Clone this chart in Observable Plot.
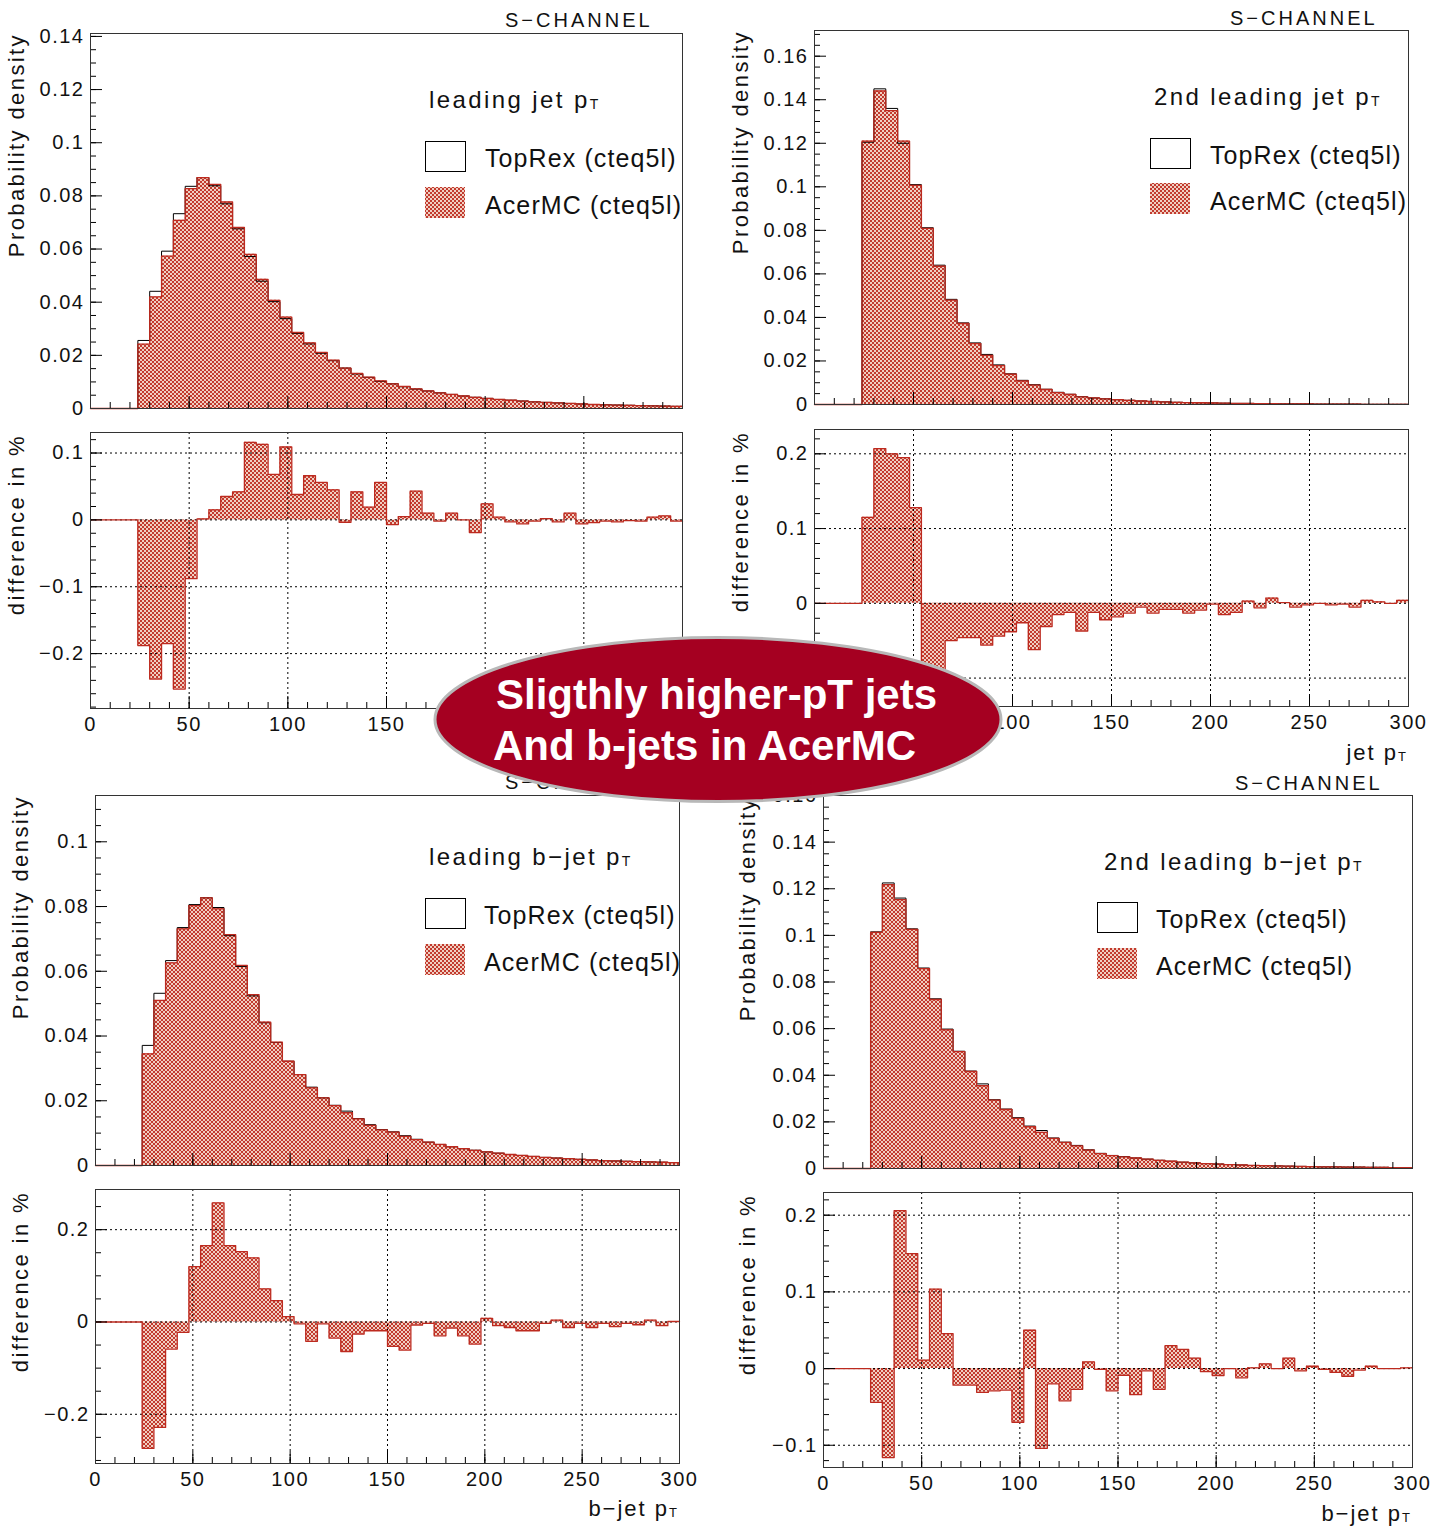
<!DOCTYPE html>
<html><head><meta charset="utf-8">
<script src="https://cdn.jsdelivr.net/npm/d3@7"></script>
<script src="https://cdn.jsdelivr.net/npm/@observablehq/plot@0.6"></script>
<style>
body{margin:0;background:#fff;}
#page{position:relative;width:1433px;height:1526px;overflow:hidden;background:#fff;}
</style></head><body>
<svg width="0" height="0" style="position:absolute">
  <defs>
    <pattern id="acer" width="4" height="4" patternUnits="userSpaceOnUse">
      <rect width="4" height="4" fill="#c23a2e"/>
      <rect width="2" height="2" fill="#f0cfc2"/>
      <rect x="2" y="2" width="2" height="2" fill="#f0cfc2"/>
    </pattern>
  </defs>
</svg>
<div id="page"></div>
<script>
// ---------------- data ----------------
const EDGES = [0,6,12,18,24,30,36,42,48,54,60,66,72,78,84,90,96,102,108,114,120,126,132,138,144,150,156,162,168,174,180,186,192,198,204,210,216,222,228,234,240,246,252,258,264,270,276,282,288,294];
const BIN_W = 6;
const X_LABELS = [0,50,100,150,200,250,300];
const GRID_X = [50,100,150,200,250];

// leading jet pT
const LJ_ACER = [0,0,0,0,0.0242,0.0420,0.0573,0.0708,0.0827,0.0869,
 0.0843,0.0777,0.0681,0.0580,0.0486,0.0407,0.0344,0.0286,0.0247,0.0211,
 0.0182,0.0152,0.0132,0.0118,0.0104,0.0093,0.0083,0.0074,0.0066,0.0059,
 0.0053,0.0047,0.0042,0.0038,0.0034,0.0031,0.0028,0.0025,0.0023,0.0021,
 0.0019,0.0017,0.0015,0.0014,0.0013,0.0012,0.0011,0.0010,0.0009,0.0008];
const LJ_TOPREX = [0,0,0,0,0.0256,0.0441,0.0592,0.0733,0.0836,0.0869,
 0.0838,0.0770,0.0676,0.0572,0.0479,0.0402,0.0338,0.0282,0.0243,0.0208,
 0.0180,0.0152,0.0130,0.0117,0.0102,0.0093,0.0082,0.0073,0.0066,0.0059,
 0.0053,0.0047,0.0042,0.0038,0.0034,0.0031,0.0028,0.0025,0.0023,0.0021,
 0.0019,0.0017,0.0015,0.0014,0.0013,0.0012,0.0011,0.0010,0.0009,0.0008];
const LJ_DIFF = [0,0,0,0,-0.188,-0.238,-0.185,-0.253,-0.088,0.0015,
 0.015,0.035,0.042,0.116,0.113,0.068,0.109,0.038,0.066,0.056,
 0.045,-0.0035,0.042,0.019,0.056,-0.007,0.005,0.043,0.010,-0.002,
 0.010,0,-0.019,0.024,0.004,-0.003,-0.006,-0.002,0.002,-0.003,
 0.010,-0.006,-0.004,-0.002,-0.003,-0.001,-0.002,0.004,0.006,-0.002];

// 2nd leading jet pT
const SJ_ACER = [0,0,0,0,0.1210,0.1440,0.1350,0.1210,0.1007,0.0809,
 0.0635,0.0479,0.0372,0.0280,0.0226,0.0179,0.0139,0.0108,0.0089,0.0069,
 0.0055,0.0046,0.0035,0.0030,0.0026,0.0022,0.0019,0.0016,0.0014,0.0012,
 0.0010,0.0009,0.0008,0.0007,0.0006,0.0005,0.0005,0.0004,0.0004,0.0003,
 0.0003,0.0003,0.0002,0.0002,0.0002,0.0002,0.0001,0.0001,0.0001,0.0001];
const SJ_TOPREX = [0,0,0,0,0.1205,0.1450,0.1360,0.1200,0.1010,0.0812,
 0.0640,0.0483,0.0375,0.0283,0.0230,0.0182,0.0141,0.0111,0.0091,0.0070,
 0.0056,0.0047,0.0036,0.0030,0.0026,0.0022,0.0019,0.0016,0.0014,0.0012,
 0.0010,0.0009,0.0008,0.0007,0.0006,0.0005,0.0005,0.0004,0.0004,0.0003,
 0.0003,0.0003,0.0002,0.0002,0.0002,0.0002,0.0001,0.0001,0.0001,0.0001];
const SJ_DIFF = [0,0,0,0,0.115,0.207,0.200,0.195,0.128,-0.09,
 -0.09,-0.050,-0.046,-0.046,-0.056,-0.044,-0.038,-0.026,-0.062,-0.031,
 -0.015,-0.012,-0.037,-0.012,-0.022,-0.018,-0.013,-0.005,-0.013,-0.008,
 -0.008,-0.013,-0.009,-0.001,-0.015,-0.012,0.003,-0.006,0.007,0.001,
 -0.005,-0.002,0,-0.002,-0.001,-0.005,0.004,0.002,0,0.004];

// leading b-jet pT
const LB_ACER = [0,0,0,0,0.0345,0.0510,0.0626,0.0731,0.0803,0.0827,
 0.0793,0.0713,0.0618,0.0528,0.0443,0.0381,0.0322,0.0281,0.0240,0.0209,
 0.0185,0.0163,0.0144,0.0124,0.0110,0.0103,0.0090,0.0080,0.0072,0.0065,
 0.0058,0.0052,0.0047,0.0042,0.0038,0.0034,0.0031,0.0028,0.0025,0.0023,
 0.0021,0.0019,0.0017,0.0015,0.0014,0.0013,0.0012,0.0011,0.0010,0.0009];
const LB_TOPREX = [0,0,0,0,0.0371,0.0532,0.0633,0.0735,0.0806,0.0827,
 0.0797,0.0710,0.0615,0.0524,0.0441,0.0380,0.0322,0.0281,0.0242,0.0209,
 0.0186,0.0168,0.0145,0.0126,0.0111,0.0104,0.0092,0.0081,0.0072,0.0065,
 0.0058,0.0052,0.0047,0.0042,0.0038,0.0034,0.0031,0.0028,0.0025,0.0023,
 0.0021,0.0019,0.0017,0.0015,0.0014,0.0013,0.0012,0.0011,0.0010,0.0009];
const LB_DIFF = [0,0,0,0,-0.274,-0.2285,-0.0586,-0.0224,0.120,0.1656,
 0.258,0.1656,0.1526,0.1388,0.0716,0.0463,0.0116,-0.004,-0.042,-0.004,
 -0.035,-0.064,-0.026,-0.019,-0.019,-0.053,-0.061,-0.0065,-0.003,-0.030,
 -0.013,-0.030,-0.048,0.008,-0.008,-0.012,-0.019,-0.019,-0.003,0.004,
 -0.012,-0.003,-0.012,-0.003,-0.010,-0.003,-0.006,0.004,-0.008,0.001];

// 2nd leading b-jet pT
const SB_ACER = [0,0,0,0,0.1013,0.1218,0.1153,0.1026,0.0857,0.0725,
 0.0595,0.0501,0.0416,0.0355,0.0293,0.0253,0.0215,0.0179,0.0155,0.0129,
 0.0112,0.0097,0.0079,0.0064,0.0055,0.0050,0.0045,0.0040,0.0035,0.0031,
 0.0027,0.0024,0.0021,0.0019,0.0017,0.0015,0.0013,0.0012,0.0011,0.0010,
 0.0009,0.0008,0.0007,0.0007,0.0006,0.0006,0.0005,0.0005,0.0004,0.0004];
const SB_TOPREX = [0,0,0,0,0.1015,0.1225,0.1160,0.1028,0.0860,0.0728,
 0.0598,0.0503,0.0418,0.0363,0.0295,0.0255,0.0218,0.0182,0.0163,0.0131,
 0.0113,0.0099,0.0080,0.0065,0.0056,0.0051,0.0045,0.0040,0.0035,0.0031,
 0.0027,0.0024,0.0021,0.0019,0.0017,0.0015,0.0013,0.0012,0.0011,0.0010,
 0.0009,0.0008,0.0007,0.0007,0.0006,0.0006,0.0005,0.0005,0.0004,0.0004];
const SB_DIFF = [0,0,0,0,-0.044,-0.116,0.206,0.150,0.011,0.1035,
 0.0457,-0.0217,-0.0217,-0.031,-0.029,-0.028,-0.070,0.050,-0.104,-0.020,
 -0.042,-0.027,0.0087,-0.001,-0.029,-0.0087,-0.034,-0.003,-0.027,0.030,
 0.025,0.0135,-0.004,-0.009,0,-0.012,0.001,0.006,0,0.0135,
 -0.003,0.003,-0.001,-0.005,-0.010,-0.002,0.003,0,0,0.001];

// tick labels
const LJ_Y = [0,0.02,0.04,0.06,0.08,0.1,0.12,0.14];
const SJ_Y = [0,0.02,0.04,0.06,0.08,0.1,0.12,0.14,0.16];
const LB_Y = [0,0.02,0.04,0.06,0.08,0.1];
const SB_Y = [0,0.02,0.04,0.06,0.08,0.1,0.12,0.14,0.16];
const LJ_DY = [-0.2,-0.1,0,0.1];
const SJ_DY = [-0.1,0,0.1,0.2];
const LB_DY = [-0.2,0,0.2];
const SB_DY = [-0.1,0,0.1,0.2];

// ---------------- drawing ----------------
const page = document.getElementById("page");
const RED = "#bd2a1f";
const FONT = "'Liberation Sans', Arial, Helvetica, sans-serif";
const fmt = d => d === 0 ? "0" : (d < 0 ? "\u2212" : "") + String(Math.abs(d));
const X_MINOR = d3.range(0, 301, 10);

function steps(vals) {
  return EDGES.map((e, i) => ({x: e, y: vals[i]}))
    .concat([{x: EDGES[EDGES.length - 1] + BIN_W, y: vals[vals.length - 1]}]);
}
function minorTicks(dom, step) {
  const a = Math.ceil(dom[0] / step - 1e-9), b = Math.floor(dom[1] / step + 1e-9);
  return d3.range(a, b + 1).map(k => +(k * step).toFixed(6));
}

const ML = 80, MR = 8, MT = 8, MB = 36;
function panel(p) {
  const W = p.fw + ML + MR, H = p.fh + MT + MB;
  const vals = p.acer || p.diff;
  const main = steps(vals);
  const marks = [];
  marks.push(Plot.areaY(main, {x: "x", y: "y", curve: "step-after", fill: "url(#acer)"}));
  if (p.diff) {
    marks.push(Plot.ruleX(GRID_X, {stroke: "#000", strokeWidth: 1, strokeDasharray: "2,3"}));
    marks.push(Plot.ruleY(p.ylab, {stroke: "#000", strokeWidth: 1, strokeDasharray: "2,3"}));
  }
  if (p.top) marks.push(Plot.line(steps(p.top), {x: "x", y: "y", curve: "step-after", stroke: "#000", strokeWidth: 1}));
  marks.push(Plot.line(main, {x: "x", y: "y", curve: "step-after", stroke: RED, strokeWidth: 1.3}));
  marks.push(Plot.ruleY(minorTicks(p.ydom, p.yminor), {insetRight: p.fw - 6, stroke: "#000"}));
  marks.push(Plot.ruleY(p.ylab, {insetRight: p.fw - 12, stroke: "#000"}));
  marks.push(Plot.ruleX(X_MINOR, {insetTop: p.fh - 6, stroke: "#000"}));
  marks.push(Plot.ruleX(X_LABELS, {insetTop: p.fh - 12, stroke: "#000"}));
  marks.push(Plot.frame({stroke: "#333", strokeWidth: 1}));
  marks.push(Plot.text(p.ylab, {y: d => d, text: fmt, frameAnchor: "left", textAnchor: "end", dx: -6, fontSize: 20, fill: "#111"}));
  if (p.diff) marks.push(Plot.text(X_LABELS, {x: d => d, text: d => String(d), frameAnchor: "bottom", lineAnchor: "top", dy: 8, fontSize: 20, fill: "#111"}));
  const svg = Plot.plot({
    width: W, height: H, marginLeft: ML, marginRight: MR, marginTop: MT, marginBottom: MB,
    x: {domain: [0, 300], axis: null},
    y: {domain: p.ydom, axis: null},
    style: {background: "none", fontFamily: FONT, letterSpacing: "1.5px", overflow: "visible", maxWidth: "none"},
    marks
  });
  svg.style.position = "absolute";
  svg.style.left = (p.fx - ML) + "px";
  svg.style.top = (p.fy - MT) + "px";
  page.appendChild(svg);
}

panel({fx: 90, fy: 33, fw: 592, fh: 375, ydom: [0, 0.1411], ylab: LJ_Y, yminor: 0.005, acer: LJ_ACER, top: LJ_TOPREX});
panel({fx: 90, fy: 432, fw: 592, fh: 276, ydom: [-0.2821, 0.1307], ylab: LJ_DY, yminor: 0.02, diff: LJ_DIFF});
panel({fx: 814, fy: 30, fw: 594, fh: 374, ydom: [0, 0.1718], ylab: SJ_Y, yminor: 0.005, acer: SJ_ACER, top: SJ_TOPREX});
panel({fx: 814, fy: 429, fw: 594, fh: 277, ydom: [-0.138, 0.2325], ylab: SJ_DY, yminor: 0.02, diff: SJ_DIFF});
panel({fx: 95, fy: 795, fw: 584, fh: 370, ydom: [0, 0.1143], ylab: LB_Y, yminor: 0.005, acer: LB_ACER, top: LB_TOPREX});
panel({fx: 95, fy: 1189, fw: 584, fh: 274, ydom: [-0.3066, 0.287], ylab: LB_DY, yminor: 0.05, diff: LB_DIFF});
panel({fx: 823, fy: 795, fw: 589, fh: 373, ydom: [0, 0.160], ylab: SB_Y, yminor: 0.005, acer: SB_ACER, top: SB_TOPREX});
panel({fx: 823, fy: 1192, fw: 589, fh: 275, ydom: [-0.129, 0.2296], ylab: SB_DY, yminor: 0.02, diff: SB_DIFF});

// ---------------- annotations ----------------
const ann = d3.create("svg").attr("width", 1433).attr("height", 1526)
  .style("position", "absolute").style("left", "0px").style("top", "0px")
  .style("font-family", FONT).style("overflow", "visible");
page.appendChild(ann.node());

function vtitle(x, yTop, txt) {
  ann.append("text").attr("transform", `translate(${x},${yTop}) rotate(-90)`)
    .attr("text-anchor", "end").attr("dominant-baseline", "central")
    .attr("font-size", 22).attr("letter-spacing", "2.4px").attr("fill", "#111").text(txt);
}
function ptText(x, y, pre, size, anchor, ls) {
  const t = ann.append("text").attr("x", x).attr("y", y).attr("font-size", size)
    .attr("text-anchor", anchor || "start").attr("letter-spacing", (ls || 1.5) + "px").attr("fill", "#111");
  t.append("tspan").text(pre + "p");
  t.append("tspan").attr("font-size", Math.round(size * 0.58)).attr("dy", Math.round(size * 0.05)).text("T");
  return t;
}
function schannel(x, y) {
  ann.append("text").attr("x", x).attr("y", y).attr("font-size", 20)
    .attr("letter-spacing", "3px").attr("fill", "#111").text("S\u2212CHANNEL");
}
function legend(L) {
  ptText(L.tx, L.ty, L.title, 24, "start", 2.4);
  ann.append("rect").attr("x", L.bx + 0.5).attr("y", L.b1 + 0.5).attr("width", 40).attr("height", 30)
    .attr("fill", "#fff").attr("stroke", "#000");
  ann.append("rect").attr("x", L.bx).attr("y", L.b2).attr("width", 40).attr("height", 31)
    .attr("fill", "url(#acer)");
  ann.append("text").attr("x", L.ex).attr("y", L.b1 + 26).attr("font-size", 25).attr("letter-spacing", "1.1px")
    .attr("fill", "#111").text("TopRex (cteq5l)");
  ann.append("text").attr("x", L.ex).attr("y", L.b2 + 27).attr("font-size", 25).attr("letter-spacing", "1.1px")
    .attr("fill", "#111").text("AcerMC (cteq5l)");
}

// axis titles
vtitle(16, 33, "Probability density");
vtitle(16, 434, "difference in %");
vtitle(740, 30, "Probability density");
vtitle(740, 431, "difference in %");
vtitle(20, 795, "Probability density");
vtitle(20, 1191, "difference in %");
vtitle(747, 797, "Probability density");
vtitle(747, 1194, "difference in %");

// x titles
ptText(682, 760, "jet ", 22, "end", 2);
ptText(1408, 760, "jet ", 22, "end", 2);
ptText(679, 1516, "b\u2212jet ", 22, "end", 2);
ptText(1412, 1521, "b\u2212jet ", 22, "end", 2);

// S-CHANNEL
schannel(505, 27);
schannel(1230, 25);
schannel(505, 789);
schannel(1235, 790);

// legends
legend({tx: 429, ty: 108, title: "leading jet ", bx: 425, b1: 141, b2: 187, ex: 485});
legend({tx: 1154, ty: 105, title: "2nd leading jet ", bx: 1150, b1: 138, b2: 183, ex: 1210});
legend({tx: 429, ty: 865, title: "leading b\u2212jet ", bx: 425, b1: 898, b2: 944, ex: 484});
legend({tx: 1104, ty: 870, title: "2nd leading b\u2212jet ", bx: 1097, b1: 902, b2: 948, ex: 1156});

// highlight oval
ann.append("ellipse").attr("cx", 718).attr("cy", 719.5).attr("rx", 283).attr("ry", 82)
  .attr("fill", "#a50021").attr("stroke", "#b8b8b8").attr("stroke-width", 3);
ann.append("text").attr("x", 496).attr("y", 709).attr("font-size", 42).attr("font-weight", "bold")
  .attr("fill", "#fff").text("Sligthly higher-pT jets");
ann.append("text").attr("x", 493).attr("y", 760).attr("font-size", 42).attr("font-weight", "bold")
  .attr("fill", "#fff").text("And b-jets in AcerMC");
</script></body></html>
